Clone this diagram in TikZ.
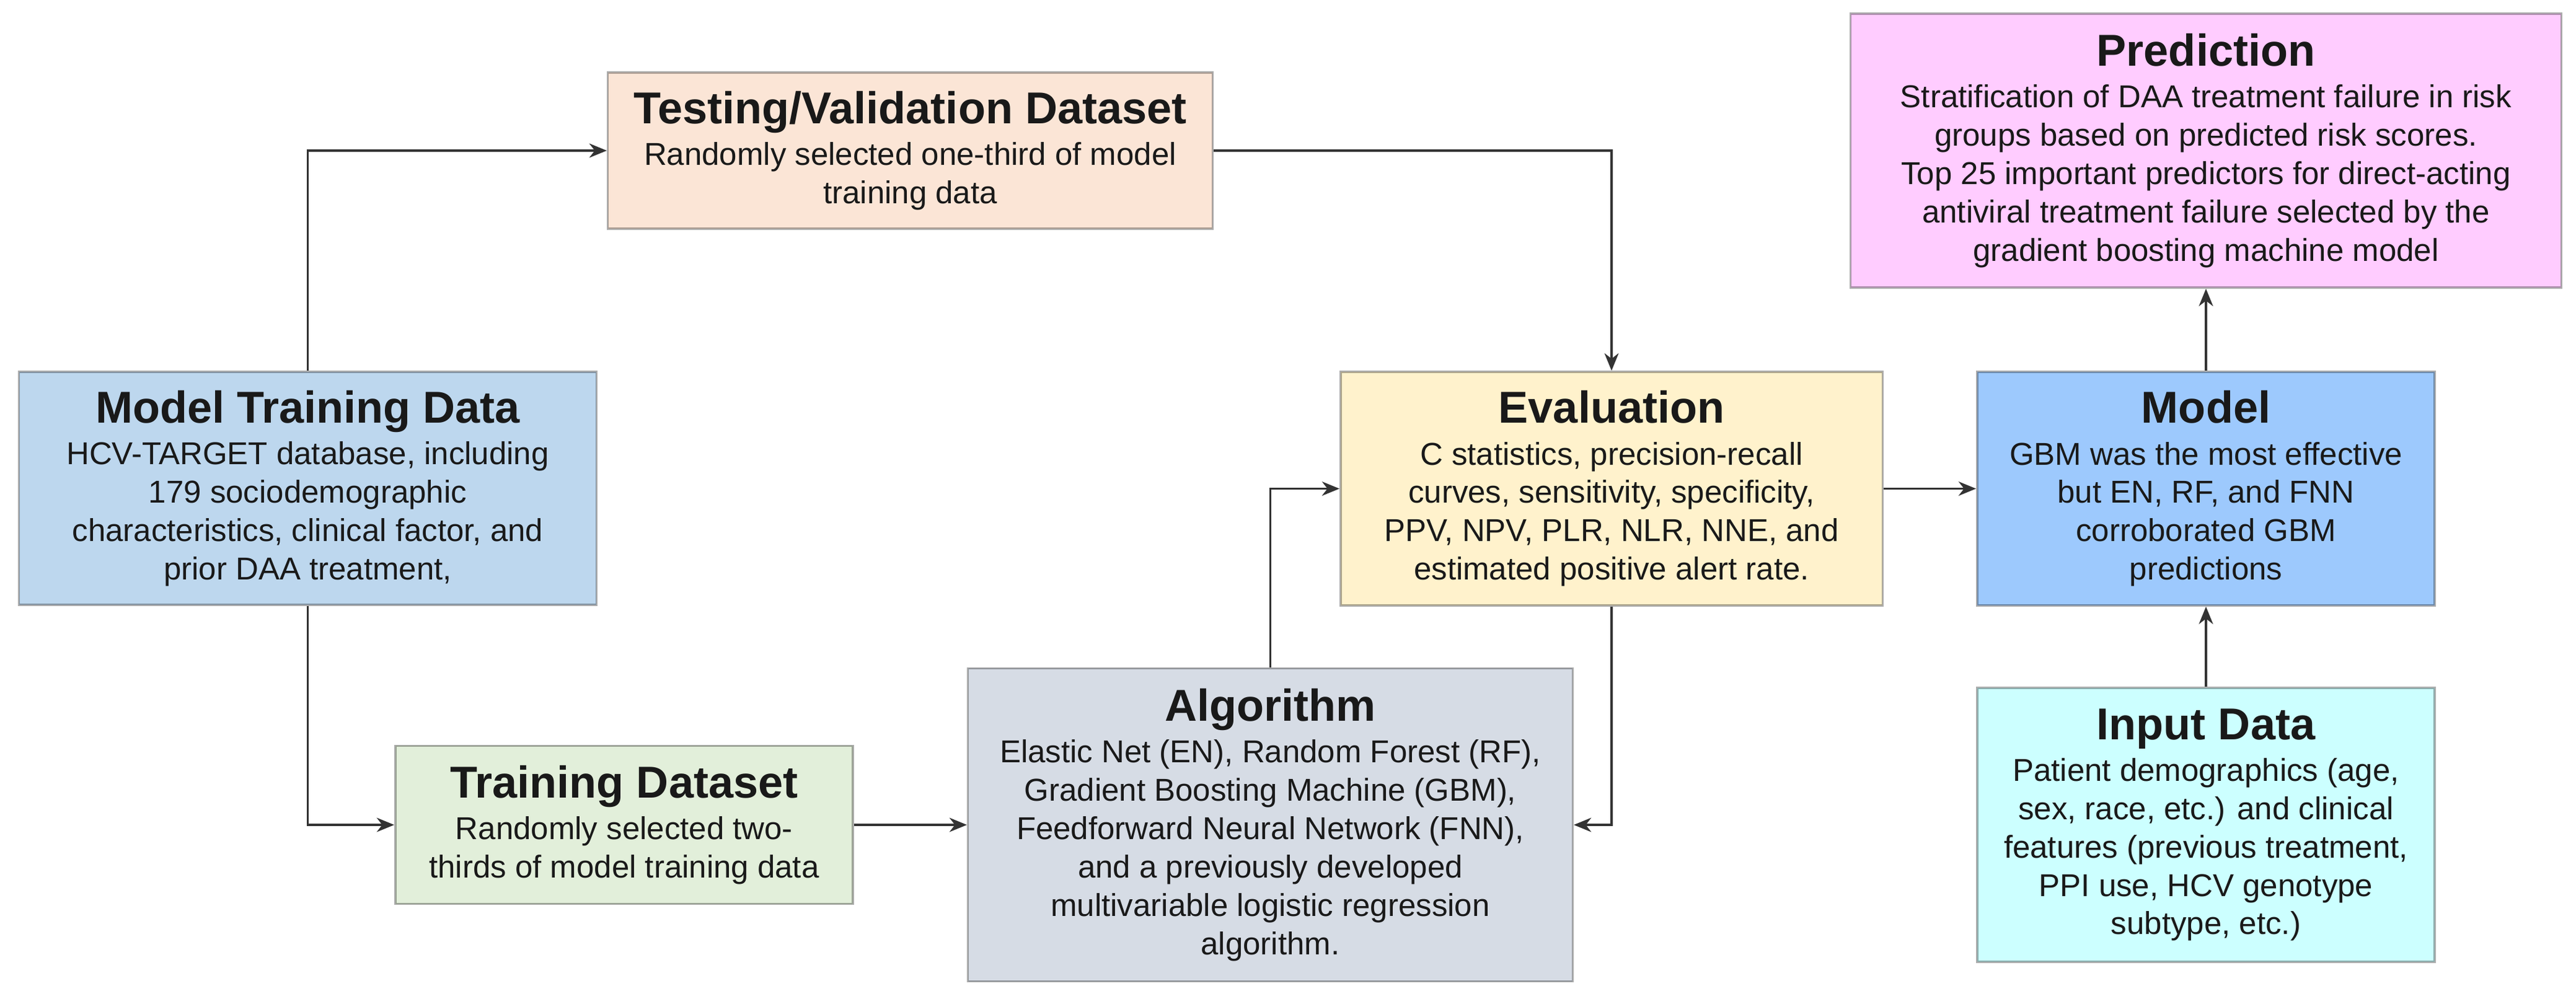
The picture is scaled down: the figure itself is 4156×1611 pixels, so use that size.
\documentclass[tikz,border=0pt]{standalone}
\usepackage{fontspec}
\setmainfont{Liberation Sans}
\usetikzlibrary{arrows.meta}
\definecolor{cTest}{HTML}{FBE5D6}
\definecolor{cMTD}{HTML}{BDD7EE}
\definecolor{cTrain}{HTML}{E2EFDA}
\definecolor{cAlg}{HTML}{D6DCE5}
\definecolor{cEval}{HTML}{FFF2CC}
\definecolor{cModel}{HTML}{9DC9FD}
\definecolor{cPred}{HTML}{FFCCFF}
\definecolor{cInput}{HTML}{CCFFFF}
\newcommand\boxtitle[1]{{\fontsize{20.5}{24}\selectfont\bfseries #1}\\[1.5pt]}
\begin{document}
\begin{tikzpicture}[x=0.01cm,y=-0.01cm,
  stagebox/.style={draw=black, draw opacity=0.32, line width=1pt, inner sep=0pt, align=center,
    font=\fontsize{14.5}{17.6}\selectfont, text=black!90},
  arr/.style={draw=black!80, line width=0.9pt, -{Stealth[length=8pt,width=6.5pt,inset=2.5pt]}}]
\useasboundingbox (0,0) rectangle (4156,1611);

\node[stagebox, fill=cTest, minimum width=9.75cm, minimum height=2.52cm] (test) at (1468.5,243)
  {\boxtitle{Testing/Validation Dataset}Randomly selected one-third of model\\training data};
\node[stagebox, fill=cMTD, minimum width=9.31cm, minimum height=3.76cm] (mtd) at (496.5,788)
  {\boxtitle{Model Training Data}HCV-TARGET database, including\\179 sociodemographic\\characteristics, clinical factor, and\\prior DAA treatment,};
\node[stagebox, fill=cTrain, minimum width=7.38cm, minimum height=2.55cm] (train) at (1007,1331)
  {\boxtitle{Training Dataset}Randomly selected two-\\thirds of model training data};
\node[stagebox, fill=cAlg, minimum width=9.75cm, minimum height=5.05cm] (alg) at (2049.5,1331)
  {\boxtitle{Algorithm}Elastic Net (EN), Random Forest (RF),\\Gradient Boosting Machine (GBM),\\Feedforward Neural Network (FNN),\\and a previously developed\\multivariable logistic regression\\algorithm.};
\node[stagebox, fill=cEval, minimum width=8.74cm, minimum height=3.77cm] (eval) at (2600,788.5)
  {\boxtitle{Evaluation}C statistics, precision-recall\\curves, sensitivity, specificity,\\PPV, NPV, PLR, NLR, NNE, and\\estimated positive alert rate.};
\node[stagebox, fill=cModel, minimum width=7.38cm, minimum height=3.77cm] (model) at (3559,788.5)
  {\boxtitle{Model}GBM was the most effective\\but EN, RF, and FNN\\corroborated GBM\\predictions};
\node[stagebox, fill=cPred, minimum width=11.46cm, minimum height=4.42cm] (pred) at (3559,243)
  {\boxtitle{Prediction}Stratification of DAA treatment failure in risk\\groups based on predicted risk scores.\\Top 25 important predictors for direct-acting\\antiviral treatment failure selected by the\\gradient boosting machine model};
\node[stagebox, fill=cInput, minimum width=7.38cm, minimum height=4.42cm] (input) at (3559,1331)
  {\boxtitle{Input Data}Patient demographics (age,\\sex, race, etc.) and clinical\\features (previous treatment,\\PPI use, HCV genotype\\subtype, etc.)};

\draw[arr] (mtd.north) |- (test.west);
\draw[arr] (test.east) -| (eval.north);
\draw[arr] (mtd.south) |- (train.west);
\draw[arr] (train.east) -- (alg.west);
\draw[arr] (alg.north) |- (eval.west);
\draw[arr] (eval.south) |- (alg.east);
\draw[arr] (eval.east) -- (model.west);
\draw[arr] (model.north) -- (pred.south);
\draw[arr] (input.north) -- (model.south);
\end{tikzpicture}
\end{document}
